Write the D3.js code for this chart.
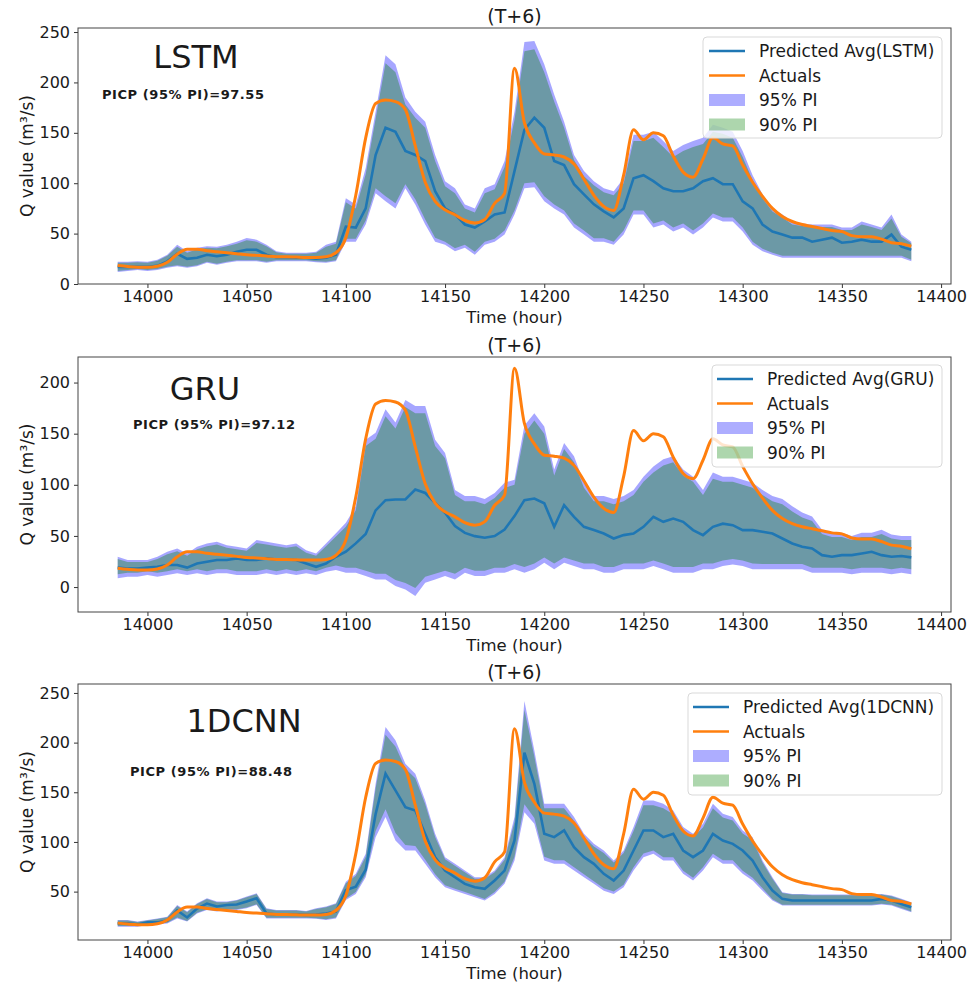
<!DOCTYPE html>
<html>
<head>
<meta charset="utf-8">
<script src="https://cdn.jsdelivr.net/npm/d3@7"></script>
<style>
  body { margin: 0; background: #fff; }
  text { font-family: "DejaVu Sans", sans-serif; fill: #1a1a1a; }
</style>
</head>
<body>
<svg id="chart" width="967" height="982"></svg>
<script>
// hourly time stamps, sampled every 5 h
var hours = d3.range(13985, 14386, 5)
var xTicks = [14000, 14050, 14100, 14150, 14200, 14250, 14300, 14350, 14400]

var actuals = [
  18.3, 17.3, 16.7, 16.7, 17.6, 21.5, 29.6, 34.5, 34.5, 33,
  32, 31, 30, 29, 28.4, 27.8, 27, 27, 26.7, 26.4,
  26.4, 27, 31, 46, 88, 145, 179, 182.5, 181, 173,
  137, 101, 82, 73.6, 68.7, 63, 60.5, 64, 80, 90,
  214, 160, 140, 129, 128, 126, 119, 104, 88, 77,
  73, 108, 153, 143, 150, 147, 127, 111, 106, 124,
  145, 139, 137, 118, 101, 87, 75, 67, 62, 59,
  57, 55, 53, 52, 48, 47, 47, 44.5, 41, 40,
  37.5]

// LSTM
var lstmAvg = [
  17, 17, 17, 17, 18, 22.5, 30, 25, 26, 29,
  27.5, 29, 32, 34, 34, 29, 26.5, 26.5, 26, 26,
  25, 26, 29, 57, 56, 75, 128, 155, 151, 132,
  128, 122, 92, 75, 69, 59, 56, 62, 69, 71,
  112, 153, 165, 155, 122, 118, 99, 89, 79, 72,
  66, 75, 105, 108, 102, 95, 92, 92, 95, 102,
  105, 99, 99, 82, 75, 59, 52, 49, 46, 46,
  42, 44, 46, 41, 42, 44, 42, 42, 49, 37,
  34]
var lstmHi95 = [
  22, 22, 22.5, 22, 24, 29, 39, 32.5, 36, 37.4,
  37, 39, 42, 45.6, 44, 39, 32.5, 31, 31, 31,
  32, 39, 42, 85, 79, 115, 171, 227, 218, 185,
  171, 161, 128, 102, 95, 79, 75, 95, 99, 122,
  171, 240, 241, 218, 188, 161, 128, 112, 102, 95,
  92, 105, 148, 148, 151, 142, 132, 138, 142, 145,
  158, 155, 151, 132, 108, 89, 75, 69, 62, 60,
  59, 59, 59, 56, 56, 62, 59, 56, 69, 49,
  42]
var lstmHi90 = [
  21, 21, 21.5, 21, 23, 28, 37, 31, 34.5, 36,
  35.5, 37.5, 40, 43.5, 42, 37.5, 31.5, 30, 30, 30,
  31, 37, 40, 81, 75, 109, 164, 219, 210, 178,
  165, 155, 122, 97, 90, 75, 71, 90, 94, 116,
  163, 231, 233, 210, 181, 155, 123, 107, 98, 91,
  88, 100, 142, 142, 145, 136, 126, 132, 136, 139,
  151, 149, 145, 126, 103, 85, 72, 66, 59, 57.5,
  56.5, 56.5, 56.5, 53.5, 53.5, 59, 56.5, 53.5, 65, 47,
  40.5]
var lstmLo95 = [
  12, 13, 14, 13, 14, 16, 17.5, 16, 17.5, 21,
  19, 21, 22.5, 22.5, 22.5, 21, 22.5, 22.5, 22.5, 22.5,
  21.5, 21, 22.5, 42, 42, 59, 90, 82, 75, 95,
  79, 59, 42, 39, 32.5, 36, 29, 39, 42, 49,
  69, 95, 96, 82, 75, 69, 56, 49, 42, 42,
  39, 49, 69, 69, 56, 59, 52, 56, 49, 56,
  66, 62, 62, 52, 39, 32.5, 29, 26, 26, 26,
  26, 26, 26, 26, 26, 26, 26, 26, 26, 26,
  22.5]
var lstmLo90 = [
  13, 14, 15, 14, 15, 17, 18.5, 17, 18.5, 22,
  20, 22, 23.5, 23.5, 23.5, 22, 23.5, 23.5, 23.5, 23.5,
  22.5, 22, 23.5, 45, 45, 63, 95, 87, 80, 99,
  84, 64, 46, 42, 35.5, 39, 32, 42, 45, 53,
  73, 100, 101, 87, 79, 73, 60, 53, 45.5, 45.5,
  42, 53, 73, 73, 60, 63, 56, 60, 53, 60,
  70, 66, 66, 56, 42, 35, 31, 28, 28, 28,
  28, 28, 28, 28, 28, 28, 28, 28, 28, 28,
  24]

// GRU
var gruAvg = [
  19.2, 18.2, 18, 19, 19.8, 21.5, 21.5, 19, 23, 24.8,
  26.4, 26.4, 28, 26.4, 26.4, 28, 27, 27, 26.4, 23,
  19.8, 23, 29.6, 34.5, 42.7, 52, 75, 85, 85.7, 85.7,
  95.4, 92, 82.4, 72.6, 59.6, 53, 49.8, 48.2, 49.8, 56.3,
  69.4, 85, 86.6, 82, 59, 80, 68.7, 58.9, 55.7, 52.4,
  47.5, 50.8, 52.4, 58.9, 68.7, 63.8, 67, 63.8, 55.7, 50.8,
  58.9, 62, 60.5, 55.7, 55.7, 54, 52.4, 47.5, 42.6, 39.4,
  37.7, 31.2, 29.6, 31.2, 31.2, 32.8, 34.5, 31.2, 29.6, 30.4,
  29]
var gruHi95 = [
  29.6, 26.4, 26.4, 26.4, 29.6, 34.5, 37.8, 32.9, 39.4, 42.7,
  44.4, 41, 39.4, 37.8, 46, 44.4, 42.7, 41, 42.7, 36,
  32.9, 42.7, 52.5, 63, 79, 144, 151, 174, 161, 183,
  177, 177, 144, 131, 95, 89, 89, 86, 92, 102,
  105, 158, 170, 157, 115, 141, 128, 102, 89, 89,
  86, 89, 95, 108, 118, 125, 128, 115, 108, 95,
  112, 108, 108, 105, 102, 95, 89, 86, 79, 73,
  69, 56, 53, 53, 50, 53, 53, 56, 51.5, 50,
  50]
var gruHi90 = [
  27.5, 24.5, 24.5, 24.5, 27.5, 32, 35, 30.5, 37, 40,
  41.5, 38.5, 37, 35.5, 43, 41.5, 40, 38.5, 40, 33.5,
  30.5, 40, 49.5, 59, 75, 138, 145, 167, 155, 176,
  170, 170, 138, 126, 90, 84, 84, 81, 87, 97,
  100, 150, 163, 150, 109, 135, 122, 97, 84, 84,
  81, 84, 90, 103, 112, 119, 122, 109, 103, 90,
  106, 103, 103, 100, 97, 90, 84, 81, 74, 68,
  64.5, 52, 49, 49, 46, 49, 49, 52, 47.5, 46,
  46]
var gruLo95 = [
  8.5, 10, 10, 11.7, 10, 11.7, 13.4, 11.7, 13.4, 11.7,
  13.4, 13.4, 11.7, 11.7, 11.7, 13.4, 11.7, 13.4, 11.7, 13.4,
  11.7, 15, 16.6, 14, 14, 10.7, 7.5, 7.5, 1, -2.3,
  -8.8, 4.2, 7.5, 10.7, 7.5, 14, 10.7, 10.7, 14, 14,
  17.3, 14, 17.3, 23.8, 17.3, 23.8, 20.5, 17.3, 17.3, 14,
  14, 17.3, 17.3, 17.3, 20.5, 17.3, 14, 14, 14, 17.3,
  17.3, 20.5, 22.1, 20.5, 17.3, 17.3, 17.3, 17.3, 17.3, 17.3,
  14, 14, 14, 14, 12.4, 14, 14, 14, 12.4, 14,
  12.4]
var gruLo90 = [
  12.5, 14, 14, 15.5, 14, 15.5, 17.5, 15.5, 17.5, 15.5,
  17.5, 17.5, 15.5, 15.5, 15.5, 17.5, 15.5, 17.5, 15.5, 17.5,
  15.5, 19, 21, 19, 19, 16, 13, 13, 7, 4,
  -1, 10, 13, 16, 13, 19, 16, 16, 19, 19,
  22.5, 19.5, 23, 29, 23, 29, 26, 23, 23, 19.5,
  19.5, 23, 23, 23, 26, 23, 19.5, 19.5, 19.5, 23,
  23, 26, 27.5, 26, 23, 22.5, 22.5, 22.5, 22.5, 22.5,
  19, 19, 19, 19, 17.5, 19, 19, 19, 17.5, 19,
  17.5]

// 1DCNN
var cnnAvg = [
  18, 18, 17, 19, 19, 21, 31, 24, 33, 38,
  35, 36.6, 37, 40, 43.3, 28, 27, 27, 27, 26.6,
  27, 28, 29.9, 51.6, 55, 72, 128, 168.7, 152, 135,
  131.7, 108, 84.7, 71.2, 64.5, 57.8, 54.4, 52.8, 61.2, 71.2,
  101.5, 190, 158.6, 108.2, 104.8, 111.6, 94.8, 84.7, 78, 67.9,
  61.2, 71.2, 91.4, 111.6, 111.6, 104.8, 108.2, 91.4, 84.7, 91.4,
  108.2, 101.5, 98.1, 91.4, 81.3, 64.5, 51.1, 42.7, 41, 41,
  41, 41, 41, 41, 41, 41, 41, 42.7, 41, 37.6,
  34.3]
var cnnHi95 = [
  21.5, 21.5, 19.8, 21.5, 23, 24.8, 36.6, 29.9, 38.3, 43.3,
  40, 40, 41.6, 45, 48.3, 33.3, 31.6, 31.6, 31.6, 30.6,
  33.3, 35, 38.3, 60, 67.9, 88, 158.6, 215.7, 202.3, 178.8,
  168.7, 141.8, 108.2, 84.7, 78, 71.2, 64.5, 64.5, 71.2, 84.7,
  125, 242, 192, 138.4, 138.4, 138.4, 125, 108.2, 98.1, 91.4,
  81.3, 91.4, 115, 141.8, 141.8, 138.4, 131.7, 115, 108.2, 118.3,
  138.4, 128.4, 125, 111.6, 104.8, 81.3, 64.5, 49.4, 47.7, 47.7,
  47, 47, 47, 47, 47, 47, 47, 47.7, 46, 42.7,
  39.3]
var cnnHi90 = [
  21, 21, 19.3, 21, 22.5, 24.3, 35.5, 29.3, 37.5, 42.5,
  39.3, 39.3, 41, 44.3, 47.5, 32.5, 31, 31, 31, 30,
  32.5, 34.3, 37.5, 58.5, 66, 85, 154, 208, 196, 174,
  164, 138, 105, 82.5, 76, 69.5, 63, 63, 69.5, 82,
  120, 233, 186, 134, 134, 134, 121, 105, 95.5, 89,
  79.3, 89, 111, 137, 137, 134, 128, 111.5, 105, 114.5,
  134, 124.5, 121.5, 108.5, 102, 79.3, 63, 48.5, 47, 47,
  46.3, 46.3, 46.3, 46.3, 46.3, 46.3, 46.3, 47, 45.3, 42,
  38.5]
var cnnLo95 = [
  14.7, 14.7, 14.7, 16.4, 17, 18, 23, 19.8, 28, 31.6,
  30, 31.6, 31.6, 33.3, 36.6, 23, 23, 23, 23, 23,
  22.6, 21.5, 23, 41.6, 47.7, 64.5, 104.8, 125, 101.5, 91.4,
  91.4, 78, 64.5, 54.4, 51, 47.7, 44.4, 41, 47.7, 57.8,
  81.3, 130, 118.3, 81.3, 78, 78, 71.2, 64.5, 57.8, 51,
  47.7, 54.4, 71.2, 84.7, 88, 81.3, 81.3, 67.9, 61.2, 71.2,
  84.7, 78, 78, 67.9, 61.2, 51, 41, 36, 36, 36,
  36, 36, 36, 36, 36, 36, 36, 37, 36, 32.6,
  29.3]
var cnnLo90 = [
  15.3, 15.3, 15.3, 17, 17.6, 18.6, 24, 20.5, 28.7, 32.3,
  30.7, 32.3, 32.3, 34, 37.3, 23.7, 23.7, 23.7, 23.7, 23.7,
  23.3, 22.3, 24, 43, 49.5, 67, 111, 133, 109, 97,
  96, 82, 67.5, 56.5, 53, 49.5, 46, 42.5, 49.5, 60,
  85, 138, 124, 85, 81.5, 81.5, 74.5, 67.5, 60.5, 53.5,
  50, 57, 74.5, 88.5, 91.5, 84.5, 84.5, 71, 64, 74.5,
  88, 81.5, 81.5, 71, 64, 53.5, 42.3, 36.8, 36.8, 36.8,
  36.8, 36.8, 36.8, 36.8, 36.8, 36.8, 36.8, 37.8, 36.8, 33.4,
  30]

var models = ["LSTM", "GRU", "1DCNN"]
var picpValues = ["97.55", "97.12", "88.48"]

var panels = [
  { model: 0, avg: lstmAvg, hi95: lstmHi95, lo95: lstmLo95, hi90: lstmHi90, lo90: lstmLo90,
    top: 28, bottom: 284, yDomain: [0, 254], yTicks: [0, 50, 100, 150, 200, 250],
    labelX: 196, labelY: 68, picpX: 102, picpY: 99,
    legX: 703, legY: 37, legW: 239, legH: 101, handleX: 709, textX: 759 },
  { model: 1, avg: gruAvg, hi95: gruHi95, lo95: gruLo95, hi90: gruHi90, lo90: gruLo90,
    top: 357, bottom: 612, yDomain: [-24.4, 225], yTicks: [0, 50, 100, 150, 200],
    labelX: 205, labelY: 400, picpX: 133, picpY: 429,
    legX: 712, legY: 365, legW: 230, legH: 102, handleX: 717, textX: 767 },
  { model: 2, avg: cnnAvg, hi95: cnnHi95, lo95: cnnLo95, hi90: cnnHi90, lo90: cnnLo90,
    top: 684, bottom: 940, yDomain: [1.3, 259], yTicks: [50, 100, 150, 200, 250],
    labelX: 244, labelY: 732, picpX: 130, picpY: 776,
    legX: 688, legY: 693, legW: 254, legH: 102, handleX: 693, textX: 743 }
]

var svg = d3.select('#chart')
var left = 78, right = 951

var x = d3.scaleLinear()
  .domain([13965, 14405])
  .range([left, right])

panels.forEach(function(p, pi) {
  var y = d3.scaleLinear()
    .domain(p.yDomain)
    .range([p.bottom, p.top])

  var g = svg.append('g')

  g.append('clipPath').attr('id', 'clip' + pi)
    .append('rect')
    .attr('x', left).attr('y', p.top)
    .attr('width', right - left).attr('height', p.bottom - p.top)

  var plot = g.append('g').attr('clip-path', 'url(#clip' + pi + ')')

  var band = function(lo, hi) {
    return d3.area()
      .x(function(d, i) { return x(hours[i]) })
      .y0(function(d, i) { return y(lo[i]) })
      .y1(function(d, i) { return y(hi[i]) })
  }
  var line = function(vals) {
    return d3.line()
      .x(function(d, i) { return x(hours[i]) })
      .y(function(d, i) { return y(vals[i]) })
  }

  plot.append('path')
    .attr('d', band(p.lo95, p.hi95)(hours))
    .attr('fill', 'rgb(0,0,255)').attr('fill-opacity', 0.35)
  plot.append('path')
    .attr('d', band(p.lo90, p.hi90)(hours))
    .attr('fill', 'rgb(0,128,0)').attr('fill-opacity', 0.35)
  plot.append('path')
    .attr('d', line(p.avg)(hours))
    .attr('fill', 'none').attr('stroke', '#1f77b4').attr('stroke-width', 2.6)
  plot.append('path')
    .attr('d', line(actuals).curve(d3.curveMonotoneX)(hours))
    .attr('fill', 'none').attr('stroke', '#ff7f0e').attr('stroke-width', 3)

  // axes
  var yAxis = g.append('g')
    .attr('transform', 'translate(' + left + ',0)')
    .call(d3.axisLeft(y).tickValues(p.yTicks).tickSize(4).tickPadding(4))
  var xAxis = g.append('g')
    .attr('transform', 'translate(0,' + p.bottom + ')')
    .call(d3.axisBottom(x).tickValues(xTicks).tickFormat(d3.format('d')).tickSize(4).tickPadding(3))
  ;[yAxis, xAxis].forEach(function(a) {
    a.select('.domain').remove()
    a.selectAll('.tick line').attr('stroke', '#333')
    a.selectAll('.tick text').attr('font-size', 16).attr('fill', '#1a1a1a')
      .attr('font-family', '"DejaVu Sans", sans-serif')
  })

  g.append('rect')
    .attr('x', left).attr('y', p.top)
    .attr('width', right - left).attr('height', p.bottom - p.top)
    .attr('fill', 'none').attr('stroke', '#444').attr('stroke-width', 1)

  // texts
  g.append('text')
    .attr('x', (left + right) / 2).attr('y', p.top - 5)
    .attr('text-anchor', 'middle').attr('font-size', 19)
    .text('(T+6)')
  g.append('text')
    .attr('x', (left + right) / 2).attr('y', p.bottom + 39)
    .attr('text-anchor', 'middle').attr('font-size', 16.5)
    .text('Time (hour)')
  g.append('text')
    .attr('transform', 'translate(33,' + ((p.top + p.bottom) / 2) + ') rotate(-90)')
    .attr('text-anchor', 'middle').attr('font-size', 17)
    .text('Q value (m³/s)')
  g.append('text')
    .attr('x', p.labelX).attr('y', p.labelY)
    .attr('text-anchor', 'middle').attr('font-size', 32)
    .text(models[p.model])
  g.append('text')
    .attr('x', p.picpX).attr('y', p.picpY)
    .attr('font-size', 13).attr('font-weight', 'bold')
    .attr('textLength', 162).attr('lengthAdjust', 'spacing')
    .text('PICP (95% PI)=' + picpValues[p.model])

  // legend
  var leg = g.append('g')
  leg.append('rect')
    .attr('x', p.legX).attr('y', p.legY)
    .attr('width', p.legW).attr('height', p.legH).attr('rx', 4)
    .attr('fill', '#fff').attr('fill-opacity', 0.8)
    .attr('stroke', '#d9d9d9')
  var items = [
    { label: 'Predicted Avg(' + models[p.model] + ')', kind: 'line', color: '#1f77b4' },
    { label: 'Actuals', kind: 'line', color: '#ff7f0e' },
    { label: '95% PI', kind: 'box', color: 'rgb(0,0,255)' },
    { label: '90% PI', kind: 'box', color: 'rgb(0,128,0)' }
  ]
  items.forEach(function(it, k) {
    var cy = p.legY + 14 + k * 24.5
    if (it.kind === 'line') {
      leg.append('line')
        .attr('x1', p.handleX).attr('x2', p.handleX + 36)
        .attr('y1', cy).attr('y2', cy)
        .attr('stroke', it.color).attr('stroke-width', 2.6)
    } else {
      leg.append('rect')
        .attr('x', p.handleX).attr('y', cy - 6)
        .attr('width', 36).attr('height', 12)
        .attr('fill', it.color).attr('fill-opacity', 0.32)
    }
    leg.append('text')
      .attr('x', p.textX).attr('y', cy + 6)
      .attr('font-size', 17)
      .text(it.label)
  })
})
</script>
</body>
</html>
